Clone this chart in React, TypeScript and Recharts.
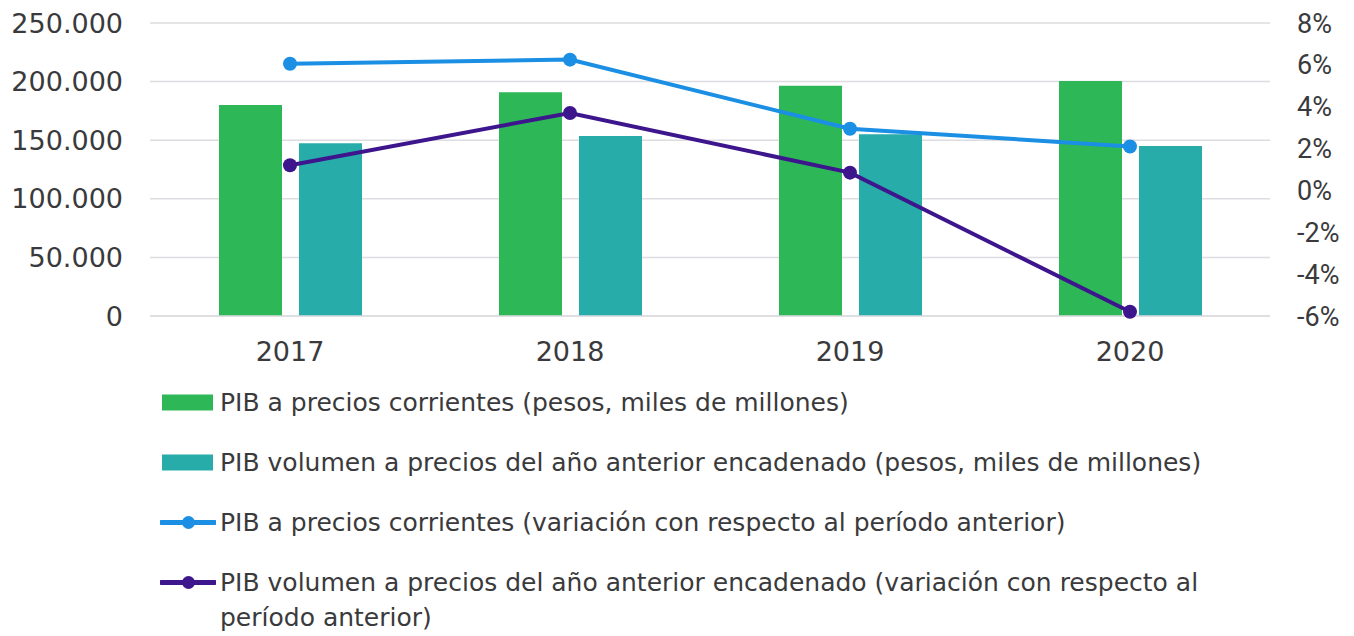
import React from 'react';
import { ComposedChart, Bar, Line, XAxis, YAxis, CartesianGrid, Legend } from 'recharts';

const years = ['2017', '2018', '2019', '2020'];
const pibCorrientes = [180000, 191000, 196500, 200500];
const pibVolumen = [147500, 153500, 155000, 145000];
const varCorrientes = [6.05, 6.25, 2.95, 2.1];
const varVolumen = [1.2, 3.7, 0.85, -5.8];

const leftTicks = [0, 50000, 100000, 150000, 200000, 250000];
const rightTicks = [-6, -4, -2, 0, 2, 4, 6, 8];

const seriesNames = [
  'PIB a precios corrientes (pesos, miles de millones)',
  'PIB volumen a precios del año anterior encadenado (pesos, miles de millones)',
  'PIB a precios corrientes (variación con respecto al período anterior)',
  'PIB volumen a precios del año anterior encadenado (variación con respecto al período anterior)',
];
const seriesColors = ['#2eb757', '#28aca9', '#1b8fe4', '#3d168d'];
const seriesKinds = ['bar', 'bar', 'line', 'line'];

const data = years.map((y, i) => ({
  year: y,
  pibCorrientes: pibCorrientes[i],
  pibVolumen: pibVolumen[i],
  varCorrientes: varCorrientes[i],
  varVolumen: varVolumen[i],
}));

const FONT = '"DejaVu Sans", sans-serif';
const FONT_RIGHT = 'Roboto, "DejaVu Sans", sans-serif';
const TEXT = '#3a3a3c';
const GRID = '#dcdce1';

const fmtThousands = (v: number) => String(v).replace(/\B(?=(\d{3})+(?!\d))/g, '.');

const LegendContent = () => (
  <div style={{ fontFamily: FONT, fontSize: 25, color: TEXT, lineHeight: '35px' }}>
    {seriesNames.map((name, i) => (
      <div key={name} style={{ display: 'flex', alignItems: 'flex-start', marginBottom: 25 }}>
        <svg width={56} height={35} style={{ flex: '0 0 auto' }}>
          {seriesKinds[i] === 'bar' ? (
            <rect x={2} y={9.5} width={51} height={16} fill={seriesColors[i]} />
          ) : (
            <g>
              <line x1={1} y1={17.5} x2={55} y2={17.5} stroke={seriesColors[i]} strokeWidth={5} strokeLinecap="round" />
              <circle cx={28.5} cy={17.5} r={6.5} fill={seriesColors[i]} />
            </g>
          )}
        </svg>
        <div style={{ marginLeft: 4, width: 990 }}>{name}</div>
      </div>
    ))}
  </div>
);

export default function App() {
  return (
    <ComposedChart
      width={1346}
      height={628}
      data={data}
      margin={{ top: 15, right: 8, bottom: 270, left: 0 }}
      barCategoryGap={69}
      barGap={17}
    >
      <CartesianGrid yAxisId="left" vertical={false} stroke={GRID} strokeWidth={1.5} />
      <XAxis
        dataKey="year"
        tickLine={false}
        tickSize={0}
        tickMargin={26}
        height={50}
        axisLine={{ stroke: GRID, strokeWidth: 1.5 }}
        tick={{ fill: TEXT, fontSize: 27, fontFamily: FONT }}
      />
      <YAxis
        yAxisId="left"
        orientation="left"
        width={142}
        domain={[0, 250000]}
        ticks={leftTicks}
        tickFormatter={fmtThousands}
        axisLine={false}
        tickLine={false}
        tickSize={0}
        tickMargin={27}
        interval={0}
        tick={{ fill: TEXT, fontSize: 27, fontFamily: FONT }}
      />
      <YAxis
        yAxisId="right"
        orientation="right"
        width={76}
        domain={[-6, 8]}
        ticks={rightTicks}
        tickFormatter={(v: number) => `${v}%`}
        axisLine={false}
        tickLine={false}
        tickSize={0}
        tickMargin={27}
        interval={0}
        tick={{ fill: TEXT, fontSize: 27, fontFamily: FONT_RIGHT }}
      />
      <Bar yAxisId="left" dataKey="pibCorrientes" name={seriesNames[0]} fill={seriesColors[0]} isAnimationActive={false} />
      <Bar yAxisId="left" dataKey="pibVolumen" name={seriesNames[1]} fill={seriesColors[1]} isAnimationActive={false} />
      <Line
        yAxisId="right"
        dataKey="varCorrientes"
        name={seriesNames[2]}
        stroke={seriesColors[2]}
        strokeWidth={4}
        dot={{ r: 7, fill: seriesColors[2], stroke: 'none' }}
        activeDot={false}
        isAnimationActive={false}
      />
      <Line
        yAxisId="right"
        dataKey="varVolumen"
        name={seriesNames[3]}
        stroke={seriesColors[3]}
        strokeWidth={4}
        dot={{ r: 7, fill: seriesColors[3], stroke: 'none' }}
        activeDot={false}
        isAnimationActive={false}
      />
      <Legend
        layout="vertical"
        align="center"
        verticalAlign="middle"
        content={<LegendContent />}
        wrapperStyle={{ left: 152, top: 377, width: 1100, height: 'auto' }}
      />
    </ComposedChart>
  );
}
